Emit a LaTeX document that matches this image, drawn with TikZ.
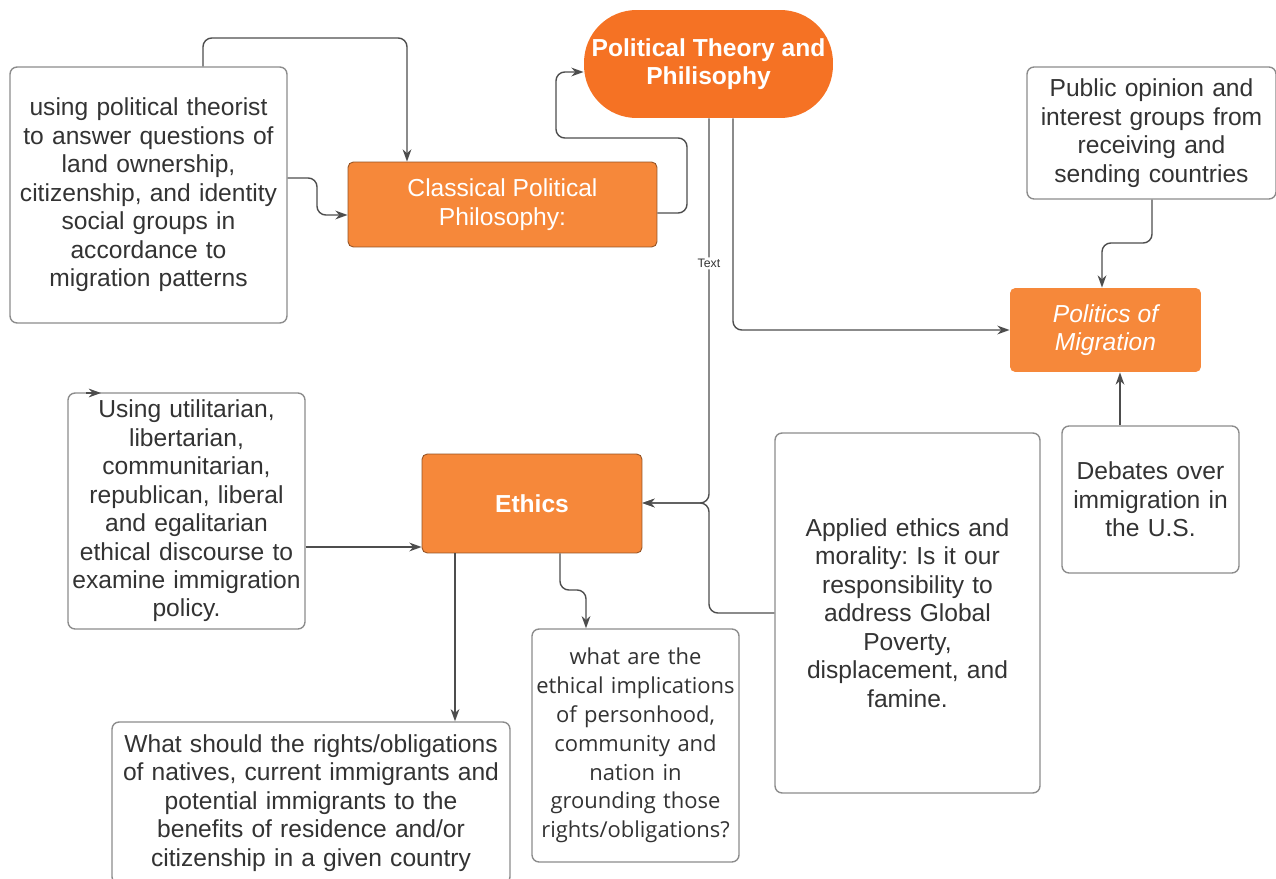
\documentclass[tikz,border=0pt]{standalone}
\usepackage{fontspec}
\setmainfont{Liberation Sans}
\newfontfamily\opensans{Open Sans}
\usetikzlibrary{arrows.meta}
\definecolor{ptorange}{HTML}{F57224}
\definecolor{boxorange}{HTML}{F6883A}
\definecolor{linegray}{HTML}{4D4D4D}
\definecolor{framegray}{HTML}{8C8C8C}
\definecolor{textgray}{HTML}{333333}
\frenchspacing

\begin{document}
\begin{tikzpicture}[x=0.02cm,y=-0.02cm,
  base/.style={rectangle,align=center,inner sep=2pt,font=\fontsize{14}{16.2}\selectfont},
  orangebox/.style={base,fill=boxorange,draw=boxorange!60!black,line width=0.5pt,rounded corners=3pt,text=white},
  whitebox/.style={base,fill=white,draw=framegray,line width=0.8pt,rounded corners=4pt,text=textgray},
  conn/.style={draw=linegray,line width=0.8pt,rounded corners=5pt,-{Stealth[length=7pt,width=5pt]}},
  lbl/.style={fill=white,inner sep=1pt,font=\fontsize{7}{8}\selectfont,text=textgray}]

  \useasboundingbox (0,0) rectangle (1276,879);

  % main topics
  \node[orangebox,fill=ptorange,draw=none,rounded corners=1.05cm,minimum width=4.98cm,minimum height=2.16cm,
        font=\bfseries\fontsize{14}{16.2}\selectfont] (theory) at (708.5,64) {Political Theory and\\Philisophy};
  \node[orangebox,minimum width=6.18cm,minimum height=1.7cm] (classical) at (502.5,204.5) {Classical Political\\Philosophy:};
  \node[orangebox,draw=none,minimum width=3.82cm,minimum height=1.68cm,
        font=\itshape\fontsize{14}{16.2}\selectfont] (migration) at (1105.5,330) {Politics of\\Migration};
  \node[orangebox,minimum width=4.4cm,minimum height=1.98cm,
        font=\bfseries\fontsize{14}{16.2}\selectfont] (ethics) at (532,503.5) {Ethics};

  % notes
  \node[whitebox,minimum width=5.54cm,minimum height=5.12cm,text width=5.3cm] (theorist) at (148.5,195)
    {using political theorist\\to answer questions of\\land ownership,\\citizenship, and identity\\social groups in\\accordance to\\migration patterns};
  \node[whitebox,minimum width=4.98cm,minimum height=2.64cm,text width=4.7cm] (opinion) at (1151.5,133)
    {Public opinion and\\interest groups from\\receiving and\\sending countries};
  \node[whitebox,minimum width=3.54cm,minimum height=2.94cm,text width=3.3cm] (debates) at (1150.5,499.5)
    {Debates over\\immigration in\\the U.S.};
  \node[whitebox,minimum width=4.7cm,minimum height=4.72cm,text width=4.6cm] (discourse) at (186.5,511)
    {Using utilitarian,\\libertarian,\\communitarian,\\republican, liberal\\and egalitarian\\ethical discourse to\\examine immigration\\policy.};
  \node[whitebox,minimum width=5.3cm,minimum height=7.2cm,text width=5cm] (applied) at (907.5,613)
    {Applied ethics and\\morality: Is it our\\responsibility to\\address Global\\Poverty,\\displacement, and\\famine.};
  \node[whitebox,minimum width=4.1cm,minimum height=4.66cm,text width=4cm,
        font=\opensans\fontsize{12.5}{16.4}\selectfont] (personhood) at (635.5,745.5)
    {what are the\\ethical implications\\of personhood,\\community and\\nation in\\grounding those\\rights/obligations?};
  \node[whitebox,minimum width=7.96cm,minimum height=3.24cm,text width=7.7cm] (rights) at (311,803)
    {What should the rights/obligations\\of natives, current immigrants and\\potential immigrants to the\\benefits of residence and/or\\citizenship in a given country};

  % bends
  \coordinate (topA) at (203,38);
  \coordinate (topB) at (407,38);
  \coordinate (leftA) at (317,178);
  \coordinate (leftB) at (317,215);
  \coordinate (loopA) at (687,213);
  \coordinate (loopB) at (687,138);
  \coordinate (loopC) at (556,138);
  \coordinate (loopD) at (556,72);
  \coordinate (bendE) at (709,503);
  \coordinate (bendM) at (733,330);
  \coordinate (bendA) at (709,613);
  \coordinate (pubA) at (1152,243);
  \coordinate (pubB) at (1102,243);
  \coordinate (usA) at (1120,400);
  \coordinate (discA) at (360,547);
  \coordinate (downA) at (455,600);
  \coordinate (downB) at (560,590);
  \coordinate (downC) at (586,590);
  \coordinate (stubA) at (86,393);
  \coordinate (stubB) at (101,393);

  % connectors
  \draw[conn] (theorist.north -| topA) -- (topA) -- (topB) -- (classical.north -| topB);
  \draw[conn] (theorist.east |- leftA) -- (leftA) -- (leftB) -- (classical.west |- leftB);
  \draw[conn] (classical.east |- loopA) -- (loopA) -- (loopB) -- (loopC) -- (loopD) -- (theory.west |- loopD);
  \draw[conn] (theory.south -| bendE) -- node[lbl,pos=0.377] (textlbl) {Text} (bendE) -- (ethics.east |- bendE);
  \draw[conn] (theory.south -| bendM) -- (bendM) -- (migration.west |- bendM);
  \draw[conn] (applied.west |- bendA) -- (bendA) -- (bendE) -- (ethics.east |- bendE);
  \draw[conn] (opinion.south -| pubA) -- (pubA) -- (pubB) -- (migration.north -| pubB);
  \draw[conn] (debates.north -| usA) -- (migration.south -| usA);
  \draw[conn] (discourse.east |- discA) -- (ethics.west |- discA);
  \draw[conn] (ethics.south -| downA) -- (rights.north -| downA);
  \draw[conn] (ethics.south -| downB) -- (downB) -- (downC) -- (personhood.north -| downC);
  \draw[conn] (stubA) -- (stubB);
\end{tikzpicture}
\end{document}
